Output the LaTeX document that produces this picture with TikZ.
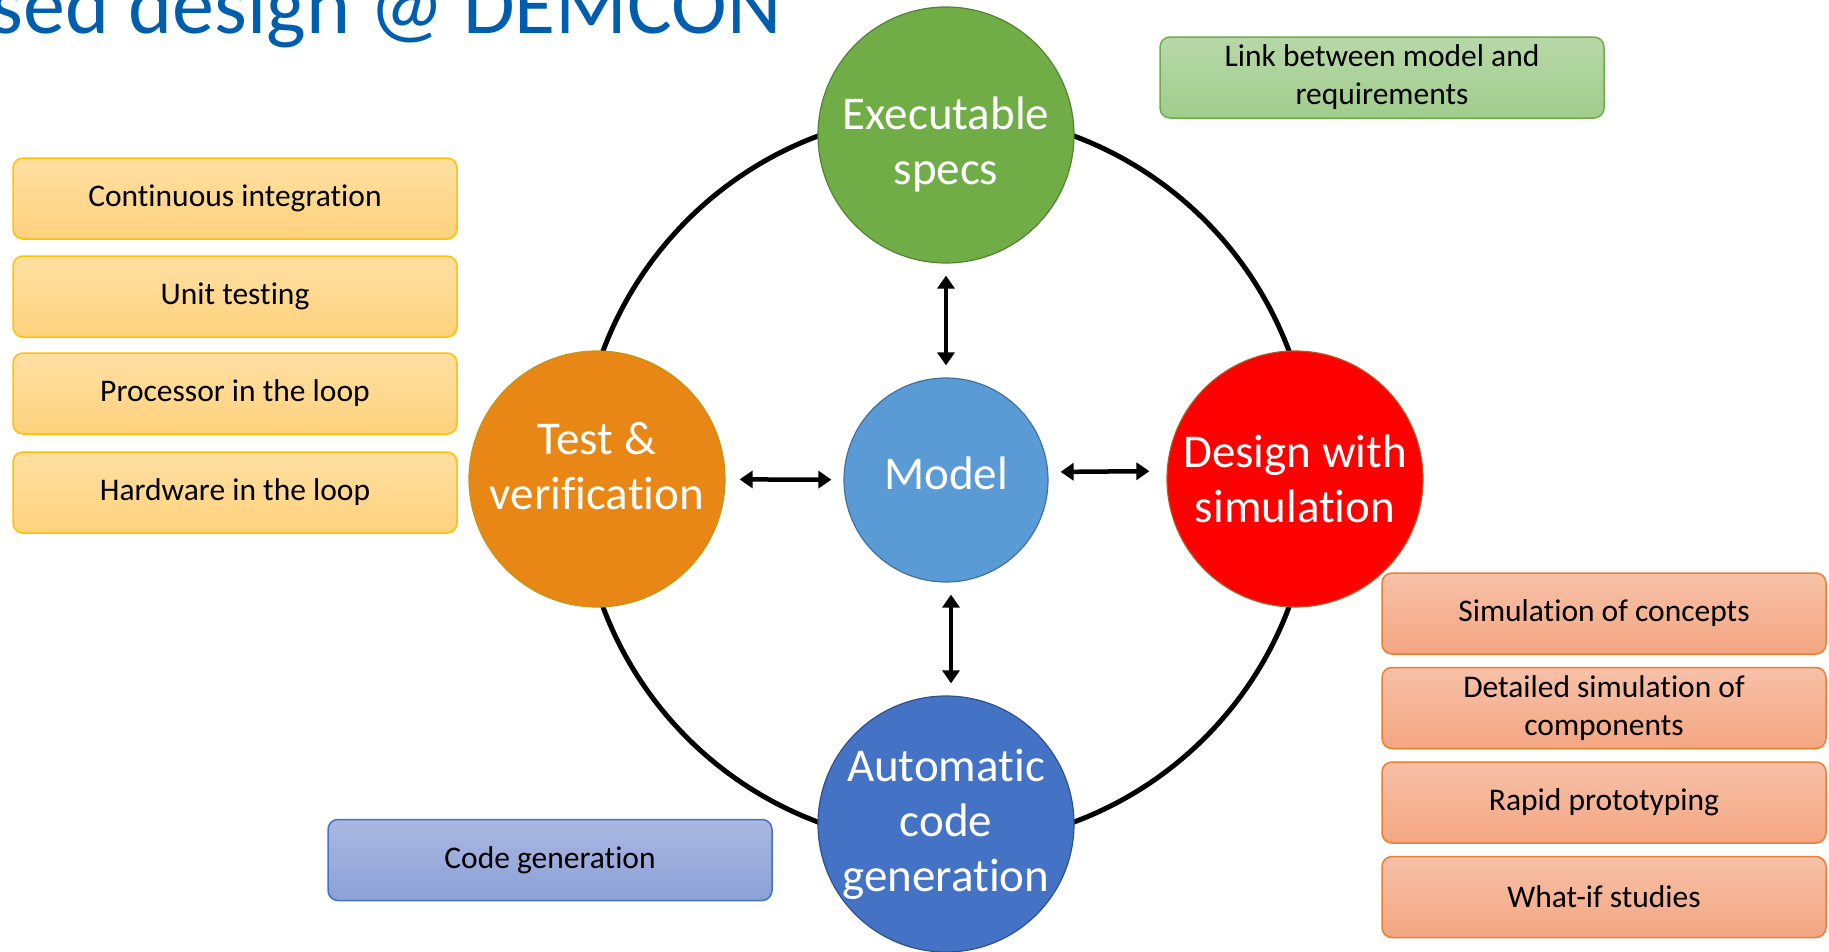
\documentclass[tikz,border=0pt]{standalone}
\usepackage{fontspec}
\setmainfont{Carlito}[Ligatures=NoCommon]
\usetikzlibrary{arrows.meta}

\definecolor{titleblue}{RGB}{0,94,172}
\definecolor{specgreen}{RGB}{112,173,71}
\definecolor{specline}{RGB}{84,130,53}
\definecolor{modelblue}{RGB}{91,155,213}
\definecolor{modelline}{RGB}{65,113,156}
\definecolor{testorange}{RGB}{232,134,22}
\definecolor{testline}{RGB}{196,150,20}
\definecolor{simred}{RGB}{255,0,0}
\definecolor{simline}{RGB}{175,90,40}
\definecolor{codeblue}{RGB}{68,114,196}
\definecolor{codeline}{RGB}{47,82,143}

\tikzset{
  bubble/.style={circle, minimum size=256pt, inner sep=0pt, line width=1.2pt},
  bubbletext/.style={inner sep=0pt, text=white, align=center, font=\fontsize{47}{55}\selectfont},
  tag/.style={rounded corners=10pt, minimum width=444pt, minimum height=81pt,
    inner sep=0pt, line width=1.5pt, align=center, font=\fontsize{31.5}{38}\selectfont},
  yellowtag/.style={tag, draw={rgb,255:red,255;green,192;blue,0},
    top color={rgb,255:red,255;green,223;blue,162}, bottom color={rgb,255:red,255;green,210;blue,125}},
  greentag/.style={tag, draw={rgb,255:red,112;green,173;blue,71},
    top color={rgb,255:red,183;green,216;blue,168}, bottom color={rgb,255:red,160;green,205;blue,140}},
  salmontag/.style={tag, draw={rgb,255:red,237;green,125;blue,49},
    top color={rgb,255:red,247;green,193;blue,168}, bottom color={rgb,255:red,244;green,166;blue,130}},
  bluetag/.style={tag, draw={rgb,255:red,68;green,114;blue,196},
    top color={rgb,255:red,170;green,183;blue,225}, bottom color={rgb,255:red,140;green,161;blue,215}},
  link/.style={line width=4.5pt, {Triangle[length=13pt,width=17pt]}-{Triangle[length=13pt,width=17pt]},
    shorten <=12pt, shorten >=12pt},
}

\begin{document}
\begin{tikzpicture}[x=1pt, y=-1pt]

   \useasboundingbox (0,0) rectangle (1829,951);

   % タイトル
   \node [anchor=base east, inner sep=0pt, text=titleblue, font=\fontsize{84}{100}\selectfont] (title) at (782,33) {sed design @ DEMCON};

   % 外側の円
   \coordinate (hub) at (946,479);
   \draw [line width=5pt] (hub) circle [radius=366pt];

   % 円
   \node [bubble, fill=specgreen, draw=specline] (spec) at (946,135) {};
   \node [bubble, fill=testorange, draw=testline] (test) at (597,479) {};
   \node [bubble, fill=simred, draw=simline] (sim) at (1295,479) {};
   \node [bubble, fill=codeblue, draw=codeline] (code) at (946,824) {};
   \node [bubble, minimum size=204pt, fill=modelblue, draw=modelline] (model) at (946,480) {};

   \node [bubbletext] (spectext) at ([yshift=-9pt]spec.center) {Executable\\specs};
   \node [bubbletext] (testtext) at ([yshift=13pt]test.center) {Test \&\\verification};
   \node [bubbletext] (simtext) at (sim.center) {Design with\\simulation};
   \node [bubbletext] (codetext) at (code.center) {Automatic\\code\\generation};
   \node [bubbletext] (modeltext) at ([yshift=7pt]model.center) {Model};

   % 矢印
   \draw [link] (spec) -- (model);
   \draw [link] ([xshift=5pt]model.south) -- ([xshift=5pt]code.north);
   \draw [link, shorten <=14pt] (test) -- (model);
   \draw [link, shorten >=17pt] ([yshift=8pt]model.east) -- ([yshift=8pt]sim.west);

   % 箱
   \node [greentag] (reqlink) at (1382,77.5) {Link between model and\\requirements};

   \node [yellowtag] (ci) at (235,198.5) {Continuous integration};
   \node [yellowtag] (unit) at (235,296.5) {Unit testing};
   \node [yellowtag] (pil) at (235,393.5) {Processor in the loop};
   \node [yellowtag] (hil) at (235,492.5) {Hardware in the loop};

   \node [salmontag] (concept) at (1604,613.5) {Simulation of concepts};
   \node [salmontag] (detail) at (1604,708) {Detailed simulation of\\components};
   \node [salmontag] (proto) at (1604,802.5) {Rapid prototyping};
   \node [salmontag] (whatif) at (1604,897) {What-if studies};

   \node [bluetag] (codegen) at (550,860) {Code generation};

\end{tikzpicture}
\end{document}
